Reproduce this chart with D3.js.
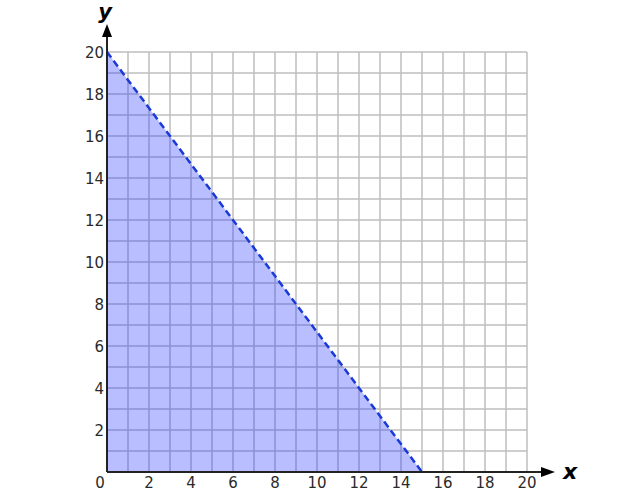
<!DOCTYPE html>
<html>
<head>
<meta charset="utf-8" />
<script src="https://cdn.jsdelivr.net/npm/d3@7"></script>
<style>
  body { margin: 0; background: #fff; }
  svg { display: block; font-family: 'DejaVu Sans', Verdana, sans-serif; }
  .tick-label { font-size: 15px; fill: #2a2a2a; }
</style>
</head>
<body>
<svg id="chart"></svg>
<script>
const width = 638;
const height = 504;

// boundary line y = 20 - (4/3)x, region below shaded
const lineX = [0, 15];
const lineY = [20, 0];
const tickValues = [2, 4, 6, 8, 10, 12, 14, 16, 18, 20];
const gridValues = d3.range(0, 21);

const plotLeft = 107, plotTop = 52, plotSize = 420;

const x = d3.scaleLinear().domain([0, 20]).range([plotLeft, plotLeft + plotSize]);
const y = d3.scaleLinear().domain([0, 20]).range([plotTop + plotSize, plotTop]);

const svg = d3.select('#chart').attr('width', width).attr('height', height);

// grid
svg.append('g').selectAll('line').data(gridValues).enter().append('line')
  .attr('x1', d => x(d)).attr('x2', d => x(d))
  .attr('y1', y(0)).attr('y2', y(20))
  .attr('stroke', '#bebebe').attr('stroke-width', 1.5);
svg.append('g').selectAll('line').data(gridValues).enter().append('line')
  .attr('x1', x(0)).attr('x2', x(20))
  .attr('y1', d => y(d)).attr('y2', d => y(d))
  .attr('stroke', '#bebebe').attr('stroke-width', 1.5);

// shaded region
const region = [[0, 0], [lineX[0], lineY[0]], [lineX[1], lineY[1]]];
svg.append('path')
  .attr('d', d3.line().x(d => x(d[0])).y(d => y(d[1]))(region) + 'Z')
  .attr('fill', 'rgb(20,40,255)')
  .attr('fill-opacity', 0.3);

// boundary line
svg.append('line')
  .attr('x1', x(lineX[0])).attr('y1', y(lineY[0]))
  .attr('x2', x(lineX[1])).attr('y2', y(lineY[1]))
  .attr('stroke', '#1a3ad8').attr('stroke-width', 2.5)
  .attr('stroke-dasharray', '7,4');

// axes
const axisColor = '#222';
svg.append('line')
  .attr('x1', x(0)).attr('x2', 542)
  .attr('y1', y(0)).attr('y2', y(0))
  .attr('stroke', axisColor).attr('stroke-width', 2);
svg.append('line')
  .attr('x1', x(0)).attr('x2', x(0))
  .attr('y1', y(0)).attr('y2', 36)
  .attr('stroke', axisColor).attr('stroke-width', 2);

// arrow heads
svg.append('path')
  .attr('d', `M${x(0)},24 L${x(0) - 5},37 L${x(0) + 5},37 Z`)
  .attr('fill', '#000');
svg.append('path')
  .attr('d', `M555,${y(0)} L541,${y(0) - 5} L541,${y(0) + 5} Z`)
  .attr('fill', '#000');

// axis labels
svg.append('text')
  .attr('x', x(0) - 2).attr('y', 19)
  .attr('text-anchor', 'middle')
  .style('font-size', '21px').style('font-weight', 'bold').style('font-style', 'italic')
  .text('y');
svg.append('text')
  .attr('x', 570).attr('y', y(0) + 7)
  .attr('text-anchor', 'middle')
  .style('font-size', '22px').style('font-weight', 'bold').style('font-style', 'italic')
  .text('x');

// tick labels
svg.append('g').selectAll('text').data(tickValues).enter().append('text')
  .attr('class', 'tick-label')
  .attr('x', x(0) - 3).attr('y', d => y(d) + 6)
  .attr('text-anchor', 'end')
  .text(d => d);
svg.append('g').selectAll('text').data(tickValues).enter().append('text')
  .attr('class', 'tick-label')
  .attr('x', d => x(d)).attr('y', y(0) + 16)
  .attr('text-anchor', 'middle')
  .text(d => d);
svg.append('text')
  .attr('class', 'tick-label')
  .attr('x', x(0) - 7).attr('y', y(0) + 16)
  .attr('text-anchor', 'middle')
  .text(0);
</script>
</body>
</html>
